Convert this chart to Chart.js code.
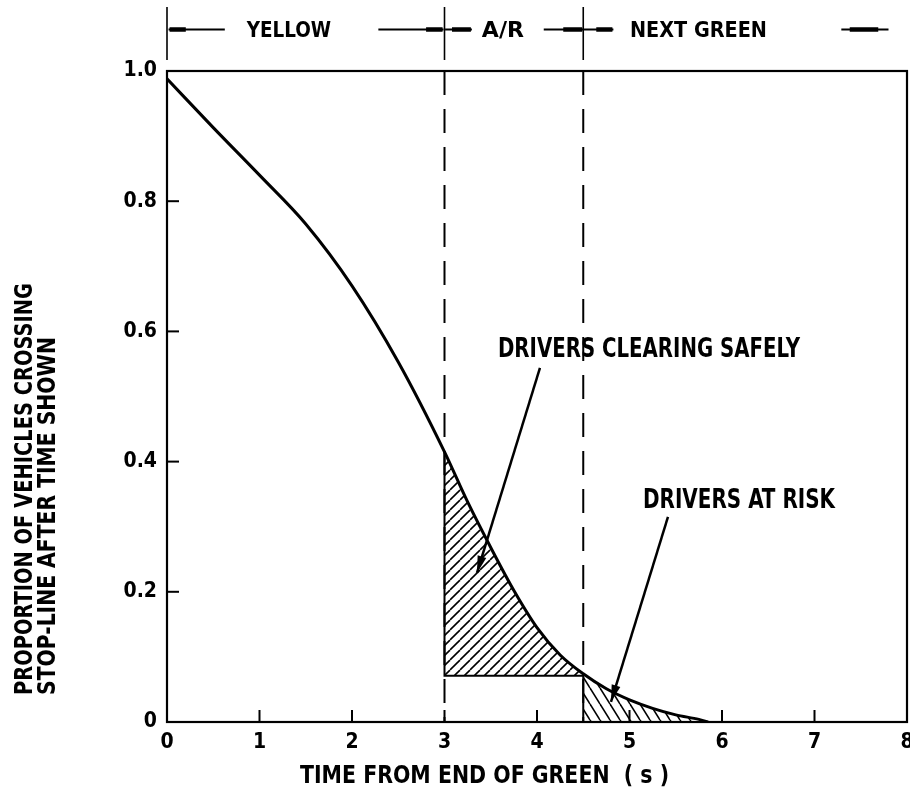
<!DOCTYPE html>
<html><head><meta charset="utf-8">
<script src="https://cdn.jsdelivr.net/npm/chart.js@4.4.1/dist/chart.umd.min.js"></script>
<style>html,body{margin:0;padding:0;background:#fff}#wrap{width:910px;height:793px;position:relative}</style>
</head><body><div id="wrap"><canvas id="c"></canvas></div>
<script>
// ---- data ----
const timeS        = [0, 0.5, 1.0, 1.5, 2.0, 2.5, 3.0, 3.25, 3.5, 3.75, 4.0, 4.25, 4.5, 4.75, 5.0, 5.25, 5.5, 5.75, 5.85];
const propCrossing = [0.988, 0.913, 0.840, 0.765, 0.670, 0.553, 0.415, 0.338, 0.268, 0.202, 0.145, 0.103, 0.074, 0.051, 0.034, 0.021, 0.011, 0.004, 0.0];
const xTickLabels  = ['0','1','2','3','4','5','6','7','8'];
const yTickLabels  = ['0','0.2','0.4','0.6','0.8','1.0'];
const phaseBounds  = [0, 3, 4.5];
const phaseLabels  = ['YELLOW', 'A/R', 'NEXT GREEN'];
const safeStart = 3, safeEnd = 4.5;
const safeFloor = 0.071;
const xTitle = 'TIME FROM END OF GREEN  ( s )';
const yTitle = ['PROPORTION OF VEHICLES CROSSING', 'STOP-LINE AFTER TIME SHOWN'];
const noteSafe = 'DRIVERS CLEARING SAFELY';
const noteRisk = 'DRIVERS AT RISK';

// ---- derived ----
const curve = timeS.map((t, i) => ({x: t, y: propCrossing[i]}));
const valAt = t => propCrossing[timeS.indexOf(t)];
const safeArea = curve.filter(p => p.x >= safeStart && p.x <= safeEnd);
const riskArea = curve.filter(p => p.x >= safeEnd);

const FONT = '"DejaVu Sans Condensed", "DejaVu Sans", sans-serif';

function hatch(w, h, dir) {
  const c = document.createElement('canvas'); c.width = w; c.height = h;
  const g = c.getContext('2d'); g.strokeStyle = '#000'; g.lineWidth = 1.6;
  for (let k = -1; k <= 1; k++) {
    g.beginPath();
    if (dir === '/') { g.moveTo(k*w, h); g.lineTo(k*w + w, 0); }
    else { g.moveTo(k*w, 0); g.lineTo(k*w + w, h); }
    g.stroke();
  }
  return g.createPattern(c, 'repeat');
}

function fitText(ctx, s, x1, x2, yc, cap) {
  const size = cap / 0.73;
  ctx.save(); ctx.font = `bold ${size}px ${FONT}`;
  const w = ctx.measureText(s).width;
  ctx.translate(x1, yc + cap/2); ctx.scale((x2 - x1)/w, 1);
  ctx.textAlign = 'left'; ctx.textBaseline = 'alphabetic'; ctx.fillStyle = '#000';
  ctx.fillText(s, 0, 0); ctx.restore();
}
function fitTextUp(ctx, s, xc, yBottom, yTop, cap) {
  const size = cap / 0.73;
  ctx.save(); ctx.font = `bold ${size}px ${FONT}`;
  const w = ctx.measureText(s).width;
  ctx.translate(xc + cap/2, yBottom); ctx.rotate(-Math.PI/2); ctx.scale((yBottom - yTop)/w, 1);
  ctx.textAlign = 'left'; ctx.textBaseline = 'alphabetic'; ctx.fillStyle = '#000';
  ctx.fillText(s, 0, 0); ctx.restore();
}
function arrow(ctx, x1, y1, x2, y2) {
  ctx.save(); ctx.strokeStyle = '#000'; ctx.fillStyle = '#000'; ctx.lineWidth = 2.5;
  ctx.beginPath(); ctx.moveTo(x1, y1); ctx.lineTo(x2, y2); ctx.stroke();
  const a = Math.atan2(y2 - y1, x2 - x1), L = 17, W = 4.5;
  const bx = x2 - L*Math.cos(a), by = y2 - L*Math.sin(a);
  ctx.beginPath(); ctx.moveTo(x2, y2);
  ctx.lineTo(bx + W*Math.sin(a), by - W*Math.cos(a));
  ctx.lineTo(bx - W*Math.sin(a), by + W*Math.cos(a));
  ctx.closePath(); ctx.fill(); ctx.restore();
}

const decor = {
  id: 'decor',
  afterDraw(chart) {
    const ctx = chart.ctx, xs = chart.scales.x, ys = chart.scales.y, A = chart.chartArea;
    const X = v => xs.getPixelForValue(v), Y = v => ys.getPixelForValue(v);
    ctx.save();
    ctx.strokeStyle = '#000'; ctx.lineCap = 'butt';
    // frame
    ctx.lineWidth = 2.2; ctx.strokeRect(A.left, A.top, A.right - A.left, A.bottom - A.top);
    // inward ticks
    ctx.lineWidth = 2;
    xs.ticks.forEach(t => { if (t.value > 0 && t.value < 8) { const p = X(t.value); ctx.beginPath(); ctx.moveTo(p, A.bottom); ctx.lineTo(p, A.bottom - 12); ctx.stroke(); } });
    ys.ticks.forEach(t => { if (t.value > 0 && t.value < 1) { const p = Y(t.value); ctx.beginPath(); ctx.moveTo(A.left, p); ctx.lineTo(A.left + 12, p); ctx.stroke(); } });
    // header phase boundaries
    ctx.lineWidth = 1.6;
    phaseBounds.forEach(b => { const p = X(b); ctx.beginPath(); ctx.moveTo(p, 7); ctx.lineTo(p, 60); ctx.stroke(); });
    const hy = 29.5;
    const spans = [[0.017,0.625,0.017,0.214],[2.285,2.99,2.79,2.99],[3.006,3.296,3.07,3.296],
                   [4.073,4.5,4.273,4.5],[4.5,4.826,4.63,4.826],[7.29,7.80,7.37,7.70]];
    spans.forEach(s => {
      ctx.lineWidth = 2; ctx.beginPath(); ctx.moveTo(X(s[0]), hy); ctx.lineTo(X(s[1]), hy); ctx.stroke();
      ctx.lineWidth = 4.5; ctx.beginPath(); ctx.moveTo(X(s[2]) + 1, hy); ctx.lineTo(X(s[3]) - 1, hy); ctx.stroke();
    });
    const hdr = [[0.861, 1.774], [3.404, 3.859], [5.005, 6.486]];
    phaseLabels.forEach((s, i) => fitText(ctx, s, X(hdr[i][0]), X(hdr[i][1]), hy, 15));
    // notes with leaders
    fitText(ctx, noteSafe, X(3.578), X(6.843), Y(0.576), 19);
    fitText(ctx, noteRisk, X(5.146), X(7.222), Y(0.344), 19);
    arrow(ctx, X(4.032), Y(0.544), X(3.351), Y(0.229));
    arrow(ctx, X(5.416), Y(0.315), X(4.80), Y(0.031));
    // axis titles
    fitText(ctx, xTitle, X(1.438), X(5.427), A.bottom + 52, 18);
    fitTextUp(ctx, yTitle[0], 23, 695, 283, 18);
    fitTextUp(ctx, yTitle[1], 46, 695, 337, 18);
    ctx.restore();
  }
};

const ticksFont = {family: FONT, size: 21, weight: 'bold'};

new Chart(document.getElementById('c'), {
  type: 'line',
  data: {
    datasets: [
      {data: curve, borderColor: '#000', borderWidth: 3, pointRadius: 0, cubicInterpolationMode: 'monotone', fill: false},
      {data: [{x: safeStart, y: valAt(safeStart)}, {x: safeStart, y: safeFloor}, {x: safeEnd, y: safeFloor}],
       borderColor: '#000', borderWidth: 2, pointRadius: 0, tension: 0, fill: false},
      {data: [{x: safeEnd, y: valAt(safeEnd)}, {x: safeEnd, y: 0}], borderColor: '#000', borderWidth: 2, pointRadius: 0, fill: false},
      {data: [{x: safeStart, y: 1}, {x: safeStart, y: 0}], borderColor: '#000', borderWidth: 2, borderDash: [24, 14], pointRadius: 0, fill: false},
      {data: [{x: safeEnd, y: 1}, {x: safeEnd, y: 0}], borderColor: '#000', borderWidth: 2, borderDash: [24, 14], pointRadius: 0, fill: false},
      {data: safeArea, borderWidth: 0, borderColor: 'rgba(0,0,0,0)', pointRadius: 0, cubicInterpolationMode: 'monotone',
       fill: {value: safeFloor}, backgroundColor: hatch(10, 10, '/')},
      {data: riskArea, borderWidth: 0, borderColor: 'rgba(0,0,0,0)', pointRadius: 0, cubicInterpolationMode: 'monotone',
       fill: 'origin', backgroundColor: hatch(10, 16, '\\')}
    ]
  },
  options: {
    responsive: true, maintainAspectRatio: false, animation: false, events: [],
    layout: {padding: {top: 71, right: 3, left: 0, bottom: 0}},
    plugins: {legend: {display: false}, tooltip: {enabled: false}},
    scales: {
      x: {type: 'linear', min: 0, max: 8,
          grid: {display: false, drawTicks: false}, border: {display: false},
          ticks: {stepSize: 1, padding: 8, color: '#000', font: ticksFont, maxRotation: 0,
                  callback: v => xTickLabels[Math.round(v)]},
          afterFit: s => { s.height = 71; s.paddingLeft = 0; s.paddingRight = 0; }},
      y: {type: 'linear', min: 0, max: 1,
          grid: {display: false, drawTicks: false}, border: {display: false},
          ticks: {stepSize: 0.2, padding: 10, color: '#000', font: ticksFont,
                  callback: v => yTickLabels[Math.round(v * 5)]},
          afterFit: s => { s.width = 167; s.paddingTop = 0; s.paddingBottom = 0; }}
    }
  },
  plugins: [decor]
});
</script></body></html>
